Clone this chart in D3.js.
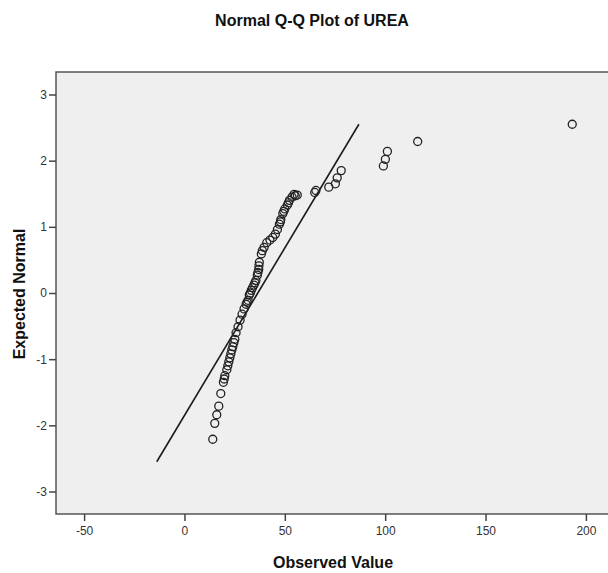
<!DOCTYPE html>
<html>
<head>
<meta charset="utf-8">
<script src="https://cdn.jsdelivr.net/npm/d3@7"></script>
<style>
body { margin:0; background:#fff; }
svg { display:block; font-family:"Liberation Sans", Arial, sans-serif; }
</style>
</head>
<body>
<svg id="chart"></svg>
<script>
var observed = [14.1, 15.1, 16.1, 17.1, 18.1, 19.4, 19.8, 20.1, 21.1, 21.6, 22.1, 22.6, 23.1, 23.6,
	24.1, 24.6, 25.1, 25.7, 26.7, 27.7, 28.7, 29.7, 30.7, 31.2, 31.7, 32.3, 32.8, 33.3, 33.9,
	34.6, 35.1, 35.6, 36.3, 36.6, 37.0, 37.1, 37.3, 38.3, 38.8, 39.7, 41.0, 42.6, 44.0, 45.3,
	46.3, 47.3, 47.8, 48.0, 49.0, 49.5, 50.0, 51.3, 51.8, 52.3, 53.6, 54.6, 55.2, 56.2,
	64.9, 65.5, 71.9, 75.2, 76.1, 78.1, 99.1, 100.1, 101.1, 116.2, 193.2];
var expected = [-2.21, -1.97, -1.84, -1.71, -1.52, -1.35, -1.30, -1.25, -1.16, -1.10, -1.04, -0.98, -0.92, -0.86,
	-0.81, -0.75, -0.70, -0.60, -0.51, -0.41, -0.32, -0.24, -0.17, -0.14, -0.11, -0.03, 0.00, 0.04, 0.08,
	0.12, 0.155, 0.19, 0.27, 0.31, 0.355, 0.41, 0.465, 0.59, 0.64, 0.69, 0.76, 0.80, 0.84, 0.89,
	0.96, 1.04, 1.075, 1.11, 1.20, 1.235, 1.27, 1.33, 1.365, 1.40, 1.45, 1.49, 1.47, 1.48,
	1.52, 1.55, 1.60, 1.65, 1.74, 1.85, 1.92, 2.02, 2.14, 2.29, 2.55];

// reference line end points
var lineX = [-13.8, 86.9];
var lineY = [-2.55, 2.55];

var xTicks = [-50, 0, 50, 100, 150, 200];
var yTicks = [-3, -2, -1, 0, 1, 2, 3];

var svgWidth = 608, svgHeight = 573;
var plot = {left:56, top:72, bottom:514, right:614};

var svg = d3.select("#chart")
	.attr("width", svgWidth)
	.attr("height", svgHeight);

var x = d3.scaleLinear()
	.domain([-64, 214])
	.range([plot.left, plot.right]);

var y = d3.scaleLinear()
	.domain([-3.34, 3.34])
	.range([plot.bottom, plot.top]);

// plain hyphen for negatives, like the original
var fmt = function(d) { return String(d); };

// plot background
svg.append("rect")
	.attr("x", plot.left)
	.attr("y", plot.top)
	.attr("width", plot.right - plot.left)
	.attr("height", plot.bottom - plot.top)
	.attr("fill", "#efefef")
	.attr("stroke", "#555")
	.attr("stroke-width", 1.5);

// axes
var xAxis = svg.append("g")
	.attr("transform", "translate(0," + plot.bottom + ")")
	.call(d3.axisBottom(x).tickValues(xTicks).tickFormat(fmt).tickSize(7).tickPadding(5));

var yAxis = svg.append("g")
	.attr("transform", "translate(" + plot.left + ",0)")
	.call(d3.axisLeft(y).tickValues(yTicks).tickFormat(fmt).tickSize(7).tickPadding(2));

[xAxis, yAxis].forEach(function(a) {
	a.select(".domain").remove();
	a.selectAll(".tick line").attr("stroke", "#444").attr("stroke-width", 1.5);
	a.selectAll(".tick text")
		.attr("fill", "#333")
		.style("font-size", "12px")
		.style("font-family", "'Liberation Sans', Arial, sans-serif");
});

// fitted normal line
svg.append("line")
	.attr("x1", x(lineX[0]))
	.attr("y1", y(lineY[0]))
	.attr("x2", x(lineX[1]))
	.attr("y2", y(lineY[1]))
	.attr("stroke", "#1a1a1a")
	.attr("stroke-width", 1.6);

// points
svg.append("g")
	.selectAll("circle")
	.data(observed)
	.enter()
	.append("circle")
	.attr("cx", function(d) { return x(d); })
	.attr("cy", function(d, i) { return y(expected[i]); })
	.attr("r", 4)
	.attr("fill", "none")
	.attr("stroke", "#222")
	.attr("stroke-width", 1.3);

// titles
svg.append("text")
	.attr("x", 312)
	.attr("y", 26)
	.attr("text-anchor", "middle")
	.style("font-size", "16px")
	.style("font-weight", "bold")
	.attr("fill", "#111")
	.text("Normal Q-Q Plot of UREA");

svg.append("text")
	.attr("x", 333)
	.attr("y", 568)
	.attr("text-anchor", "middle")
	.style("font-size", "16px")
	.style("font-weight", "bold")
	.attr("fill", "#111")
	.text("Observed Value");

svg.append("text")
	.attr("transform", "translate(25,294) rotate(-90)")
	.attr("text-anchor", "middle")
	.style("font-size", "16px")
	.style("font-weight", "bold")
	.attr("fill", "#111")
	.text("Expected Normal");
</script>
</body>
</html>
